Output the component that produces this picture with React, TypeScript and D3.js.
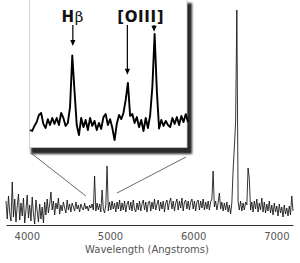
import React, { useEffect, useRef } from 'react'
import * as d3 from 'd3'

// main spectrum, flux sampled every 15 Å starting at 3750 Å
const mainStart = 3750
const mainStep = 15
const mainFlux = [
    2.4, 0.6, 2.9, 1.2, 0.4, 4.3, 0.8, 2.6, 0.3, 1.9, 3.1, 0.5, 2.2, 0.9, 2.7, 0.2, 1.5, 3.0, 0.7, 2.0,
    0.4, 2.8, 1.1, 0.1, 2.5, 1.4, 0.3, 2.1, 0.6, 1.8, 0.2, 2.3, 1.0,
    2.6, 1.2, 2.1, 3.3, 1.5, 2.4, 1.0, 2.2, 1.6, 2.7, 1.1, 2.0, 1.4, 2.3, 1.7, 1.2, 2.5, 1.5, 2.1, 1.3,
    2.2, 1.8, 1.4, 2.3, 1.6, 2.0, 1.3, 2.1, 1.7, 1.5, 2.2, 1.6, 1.9, 1.4, 2.0, 1.7, 2.1, 1.5,
    4.9, 1.4, 2.2, 1.5, 2.1, 1.3, 3.5, 1.6, 1.2, 2.0, 5.9,
    1.4, 2.3, 1.5, 2.4, 1.6, 2.2, 1.3, 2.3, 1.6, 2.5, 1.4, 2.2, 1.5, 2.4, 1.3, 2.1, 2.4, 1.5, 2.3, 1.4,
    2.5, 1.6, 1.3, 2.2, 1.5, 2.4, 1.4, 2.1, 2.5, 1.5, 2.3, 1.3, 2.2, 2.4, 1.4, 2.3, 1.6, 2.6, 1.5, 2.1,
    2.5, 1.4, 2.3, 1.6, 2.4, 1.3, 2.2, 2.5, 1.5, 2.3, 2.7, 1.6, 2.4, 1.4, 2.2, 2.6, 1.5, 2.4, 1.7, 2.7,
    1.4, 2.3, 2.5, 1.6, 2.4, 1.5, 2.3, 2.6, 1.6, 2.4, 1.4, 2.3, 2.5, 1.5, 2.4, 1.7, 2.6, 1.5, 2.3,
    1.6, 2.4, 1.5, 2.3, 2.6, 5.4, 1.8, 2.4, 1.5, 2.2, 3.2, 1.6, 2.3, 1.4, 2.2, 1.5, 2.3, 1.3, 2.0, 1.1,
    2.2, 5.5, 7.8, 10.3, 21.5,
    2.3, 1.5, 2.4, 1.4, 2.2, 1.5, 2.3, 2.0, 5.7, 4.6, 1.5, 2.3, 1.3, 2.4, 1.6, 2.6, 1.3, 2.2, 1.5, 2.7,
    1.3, 2.3, 1.2, 2.1, 1.4, 2.4, 1.2, 2.0, 1.0, 2.2, 1.3, 1.9, 0.9, 2.1, 1.2, 1.8, 0.8, 2.0, 1.1, 1.7,
    0.9, 1.9, 1.0, 2.9, 1.4,
]

// zoomed inset around Hβ / [OIII], flux every 4 Å from 4784 Å
const insetStart = 4784
const insetStep = 4
const insetFlux = [
    1.68, 1.64, 1.86, 2.03, 2.34, 2.43, 1.95, 1.77, 2.16, 1.9, 2.21, 1.95, 2.21, 1.9, 2.43, 2.21, 1.86,
    1.99, 2.7, 4.95, 3.4, 1.9, 1.46, 2.21, 1.81, 2.12, 1.68, 2.21, 1.86, 2.08, 1.68, 1.99, 1.73, 2.25,
    2.38, 1.9, 2.16, 1.77, 1.24, 1.95, 2.34, 2.16, 2.43, 3.0, 3.75, 2.3, 2.38, 1.99, 2.25, 1.81, 2.12,
    1.64, 2.21, 1.77, 2.34, 3.6, 5.9, 3.4, 1.75, 2.12, 1.86, 2.08, 1.9, 1.81, 2.21, 1.95, 2.25, 1.9,
    2.3, 2.03, 2.38, 2.03,
]

const tickValues = [4000, 5000, 6000, 7000]
const labels = [
    { main: 'H', greek: 'β', wave: 4861 },
    { main: '[OIII]', greek: '', wave: 4983 },
]
const arrows = [
    { wave: 4861, peak: 4.95, gap: 9.5 },
    { wave: 4959, peak: 3.75, gap: 8 },
    { wave: 5007, peak: 5.9, gap: 2 },
]
// main-spectrum wavelengths where the zoom lines land
const zoomEnds = [4710, 5085]

const App: React.FC = () => {
    const svgRef = useRef<SVGSVGElement>(null)

    useEffect(() => {
        if (!svgRef.current) return
        const svg = d3.select(svgRef.current)
        svg.selectAll('*').remove()

        const x = d3.scaleLinear().domain([3750, 7200]).range([6, 293])
        const y = d3.scaleLinear().domain([0, 22]).range([225, 5])

        const ix = d3.scaleLinear().domain([4784, 5068]).range([30, 188])
        const iy = d3.scaleLinear().domain([1.2, 6.2]).range([141, 27])

        const mainData = mainFlux.map((f, i) => [mainStart + i * mainStep, f] as [number, number])
        const insetData = insetFlux.map((f, i) => [insetStart + i * insetStep, f] as [number, number])

        // spectrum
        svg.append('path')
            .datum(mainData)
            .attr('fill', 'none')
            .attr('stroke', '#111')
            .attr('stroke-width', 0.85)
            .attr('d', d3.line<[number, number]>().x((d) => x(d[0])).y((d) => y(d[1])))

        // axis
        const axis = svg.append('g')
            .attr('transform', 'translate(0,225)')
            .call(d3.axisBottom(x).tickValues(tickValues).tickSize(0).tickPadding(8).tickFormat(d3.format('d')))
        axis.select('.domain').attr('stroke', '#333').attr('stroke-width', 1)
        axis.selectAll('text')
            .attr('fill', '#555')
            .attr('font-family', 'DejaVu Sans')
            .attr('font-size', 10)

        svg.append('text')
            .attr('x', 147)
            .attr('y', 253)
            .attr('text-anchor', 'middle')
            .attr('fill', '#555')
            .attr('font-family', 'DejaVu Sans')
            .attr('font-size', 10)
            .text('Wavelength (Angstroms)')

        // zoom connectors
        const conn = svg.append('g').attr('stroke', '#444').attr('stroke-width', 0.8)
        conn.append('line').attr('x1', 31).attr('y1', 153).attr('x2', x(zoomEnds[0])).attr('y2', 196)
        conn.append('line').attr('x1', 186).attr('y1', 157).attr('x2', x(zoomEnds[1])).attr('y2', 193)

        // inset box with shadow
        const defs = svg.append('defs')
        defs.append('filter')
            .attr('id', 'blur')
            .attr('x', '-10%')
            .attr('y', '-10%')
            .attr('width', '120%')
            .attr('height', '120%')
            .append('feGaussianBlur')
            .attr('stdDeviation', 1.3)

        svg.append('rect')
            .attr('x', 31)
            .attr('y', 3)
            .attr('width', 161)
            .attr('height', 151)
            .attr('fill', '#2a2a2a')
            .attr('filter', 'url(#blur)')
        svg.append('rect')
            .attr('x', 29.5)
            .attr('y', -2)
            .attr('width', 157.5)
            .attr('height', 149.5)
            .attr('fill', '#fff')
            .attr('stroke', '#c8c8c8')
            .attr('stroke-width', 0.8)

        svg.append('path')
            .datum(insetData)
            .attr('fill', 'none')
            .attr('stroke', '#000')
            .attr('stroke-width', 1.9)
            .attr('stroke-linejoin', 'round')
            .attr('d', d3.line<[number, number]>().x((d) => ix(d[0])).y((d) => iy(d[1])))

        // line labels
        labels.forEach((l) => {
            const t = svg.append('text')
                .attr('x', ix(l.wave))
                .attr('y', 21.5)
                .attr('text-anchor', 'middle')
                .attr('font-family', 'DejaVu Sans')
                .attr('font-weight', 'bold')
                .attr('font-size', 15)
                .attr('letter-spacing', 0.6)
                .attr('fill', '#111')
            t.append('tspan').text(l.main)
            if (l.greek) t.append('tspan').attr('font-weight', 'normal').attr('font-family', 'DejaVu Serif').text(l.greek)
        })

        // arrows
        arrows.forEach((a) => {
            const ax = ix(a.wave)
            const tip = iy(a.peak) - a.gap
            svg.append('line')
                .attr('x1', ax)
                .attr('x2', ax)
                .attr('y1', 25)
                .attr('y2', tip - 4)
                .attr('stroke', '#000')
                .attr('stroke-width', 1.2)
            svg.append('path')
                .attr('d', `M${ax - 2.6},${tip - 6}L${ax + 2.6},${tip - 6}L${ax},${tip}Z`)
                .attr('fill', '#000')
        })
    }, [])

    return (
        <div style={{ position: 'absolute', left: 0, top: 0, background: '#fff' }}>
            <svg ref={svgRef} width={300} height={263} style={{ display: 'block' }} />
        </div>
    )
}

export default App
